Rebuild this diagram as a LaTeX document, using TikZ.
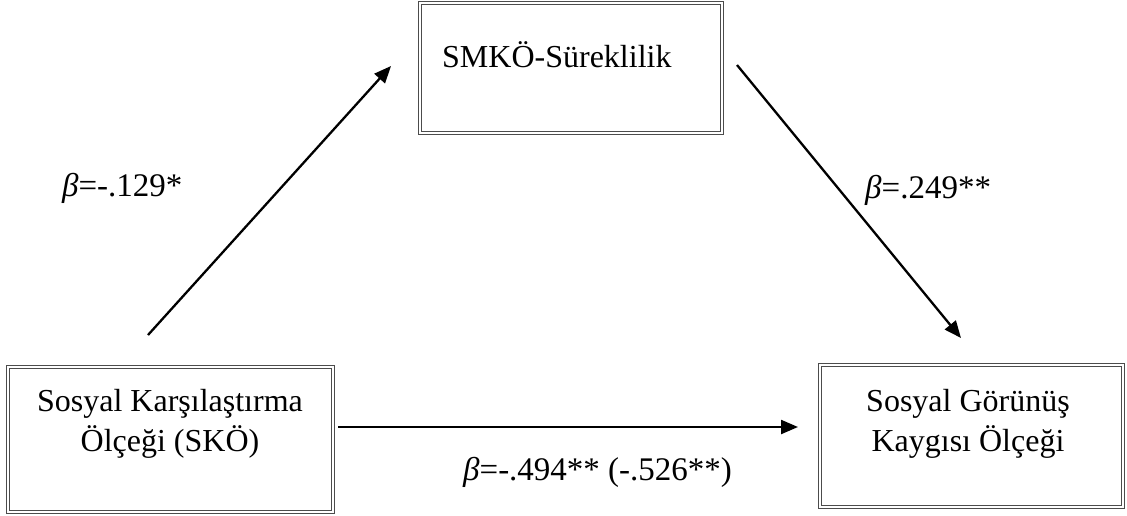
\documentclass[tikz,border=0pt]{standalone}
\usepackage{fontspec}
\setmainfont{Liberation Serif}
\usetikzlibrary{arrows.meta}
\begin{document}
\begin{tikzpicture}[x=1pt,y=-1pt,
  box/.style={draw=black!70, double=white, double distance=1.3pt, line width=0.9pt, inner sep=0pt},
  txt/.style={font=\fontsize{32}{40}\selectfont, align=center, inner sep=0pt},
  lbl/.style={font=\fontsize{33}{38}\selectfont, inner sep=0pt},
  arr/.style={line width=2.3pt, -{Triangle[length=17pt,width=14pt]}}]
\useasboundingbox (0,0) rectangle (1127,515);
\node[box, minimum width=302pt, minimum height=130pt] (med) at (571,68) {};
\node[box, minimum width=325pt, minimum height=145pt] (x) at (170.5,439.5) {};
\node[box, minimum width=303pt, minimum height=142pt] (y) at (971.5,436) {};
\node[txt, anchor=west] (medt) at (442,55) {SMKÖ-Süreklilik};
\node[txt] (xt) at (170,424) {Sosyal Karşılaştırma\\Ölçeği (SKÖ)};
\node[txt] (yt) at (968,424) {Sosyal Görünüş\\Kaygısı Ölçeği};
\coordinate (a1s) at (148,335);
\coordinate (a1e) at (391,66);
\coordinate (a2s) at (737,65);
\coordinate (a2e) at (961,338);
\coordinate (a3s) at (338,427);
\coordinate (a3e) at (798,427);
\draw[arr] (a1s) -- (a1e);
\draw[arr] (a2s) -- (a2e);
\draw[arr] (a3s) -- (a3e);
\node[lbl, anchor=west] (l1) at (62,188) {\textit{β}=-.129*};
\node[lbl, anchor=west] (l2) at (865,190) {\textit{β}=.249**};
\node[lbl, anchor=west] (l3) at (463,472) {\textit{β}=-.494** (-.526**)};
\end{tikzpicture}
\end{document}
